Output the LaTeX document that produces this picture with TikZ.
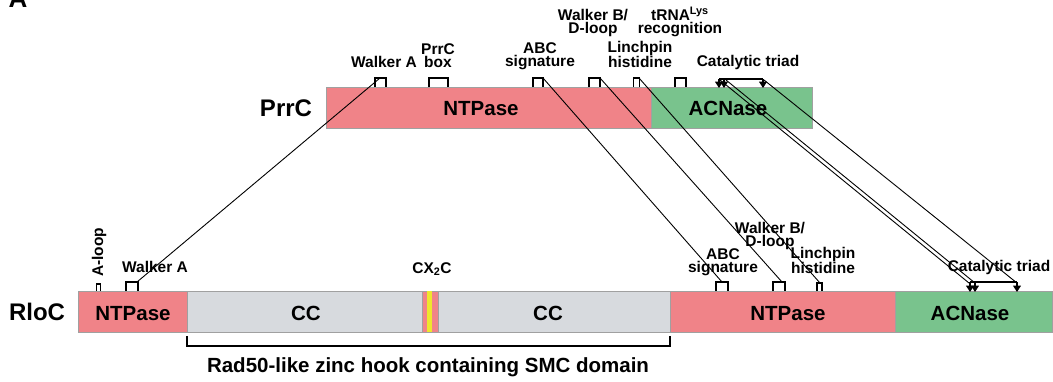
\documentclass[tikz,border=0pt]{standalone}
\usepackage{fontspec}
\setmainfont{Liberation Sans}
\usetikzlibrary{arrows.meta}
\definecolor{ntpink}{RGB}{240,131,136}
\definecolor{acgreen}{RGB}{121,195,141}
\definecolor{ccgrey}{RGB}{215,218,222}
\definecolor{znyellow}{RGB}{238,230,45}
\definecolor{edgegrey}{RGB}{160,160,160}
\newcommand{\triadtip}{Triangle[width=8pt,length=6.5pt]}
\newcommand\motif[4]{% left x, right x, bump top, bar top
  (#1,#4) -- (#1,#3) -- (#2,#3) -- (#2,#4)
}

\begin{document}
\begin{tikzpicture}[x=1pt, y=-1pt,
    protein/.style={draw=edgegrey, line width=0.7pt},
    bump/.style={draw, line width=1.1pt},
    link/.style={line width=0.9pt},
    protlab/.style={font=\fontsize{24}{28}\selectfont\bfseries, inner sep=0pt},
    domlab/.style={font=\fontsize{20.5}{24}\selectfont\bfseries, inner sep=0pt},
    lab/.style={font=\fontsize{15.5}{13.5}\selectfont\bfseries, align=center, inner sep=0pt}]
  % frame is (0,0) to (1053,381), y grows downwards
  \useasboundingbox (0,0) rectangle (1053,381);

  % panel letter
  \node[font=\fontsize{26}{30}\selectfont\bfseries, anchor=base, inner sep=0pt] (panel) at (18,7) {A};

  % PrrC
  \node[protlab, anchor=base] (prrc) at (286,116) {PrrC};
  \draw[protein, fill=ntpink] (326,87) rectangle (651,128);
  \draw[protein, fill=acgreen] (651,87) rectangle (812,128);
  \node[domlab, anchor=base] (pnt) at (481,115) {NTPase};
  \node[domlab, anchor=base] (pac) at (728,115) {ACNase};

  % PrrC motifs
  \draw[bump] \motif{375}{386}{78}{87};
  \draw[bump] \motif{429}{448}{78}{87};
  \draw[bump] \motif{533}{543}{78}{87};
  \draw[bump] \motif{589}{600}{78}{87};
  \draw[bump] \motif{633.5}{639.5}{78}{87};
  \draw[bump] \motif{675}{686}{78}{87};
  \draw[bump] (719,79) -- (763,79);
  \draw[bump, -{\triadtip}] (719,79) -- (719,88);
  \draw[bump, -{\triadtip}] (724,79) -- (724,88);
  \draw[bump, -{\triadtip}] (763,79) -- (763,88);
  \coordinate (pwa) at (380,78);
  \coordinate (pabc) at (543,78);
  \coordinate (pwb) at (600,78);
  \coordinate (plh) at (639,78);
  \coordinate (pct1) at (720,80);
  \coordinate (pct2) at (726,80);
  \coordinate (pct3) at (764,80);

  % PrrC labels
  \node[lab, anchor=south] (twa) at (384,68) {Walker A};
  \node[lab, anchor=south] (tpb) at (438,68) {PrrC\\box};
  \node[lab, anchor=south] (tabc) at (540,70) {ABC\\signature};
  \node[lab, anchor=south] (twb) at (593,37) {Walker B/\\D-loop};
  \node[lab, anchor=south] (tlh) at (640,68) {Linchpin\\histidine};
  \node[lab, anchor=south] (ttr) at (680,37) {tRNA\textsuperscript{Lys}\\recognition};
  \node[lab, anchor=south] (tct) at (748,70) {Catalytic triad};

  % RloC
  \node[protlab, anchor=base] (rloc) at (37,320) {RloC};
  \draw[protein, fill=ntpink] (78,291) rectangle (187,332);
  \draw[protein, fill=ccgrey] (187,291) rectangle (670,332);
  \draw[protein, fill=ntpink] (422,291) rectangle (438,332);
  \fill[znyellow] (427,291.4) rectangle (431.5,331.6);
  \draw[protein, fill=ntpink] (670,291) rectangle (895,332);
  \draw[protein, fill=acgreen] (895,291) rectangle (1052.6,332);
  \node[domlab, anchor=base] (rnt1) at (133,320) {NTPase};
  \node[domlab, anchor=base] (rcc1) at (306,320) {CC};
  \node[domlab, anchor=base] (rcc2) at (548,320) {CC};
  \node[domlab, anchor=base] (rnt2) at (788,320) {NTPase};
  \node[domlab, anchor=base] (rac) at (970,320) {ACNase};

  % RloC motifs
  \draw[bump] \motif{96.5}{100.5}{284}{291};
  \draw[bump] \motif{126}{138}{282}{291};
  \draw[bump] \motif{716}{728}{282}{291};
  \draw[bump] \motif{773}{785}{282}{291};
  \draw[bump] \motif{817}{822}{283}{291};
  \draw[bump] (970,282) -- (1017,282);
  \draw[bump, -{\triadtip}] (970,282) -- (970,292);
  \draw[bump, -{\triadtip}] (975,282) -- (975,292);
  \draw[bump, -{\triadtip}] (1017,282) -- (1017,292);
  \coordinate (rwa) at (137,282);
  \coordinate (rabc) at (722,282);
  \coordinate (rwb) at (782,282);
  \coordinate (rlh) at (820,283);
  \coordinate (rct1) at (969,283);
  \coordinate (rct2) at (975,283);
  \coordinate (rct3) at (1017,283);

  % RloC labels
  \node[lab, rotate=90, anchor=base west] (bal) at (103,277) {A-loop};
  \node[lab, anchor=south] (bwa) at (155,273) {Walker A};
  \node[lab, anchor=south] (bzn) at (432,276) {CX\textsubscript{2}C};
  \node[lab, anchor=south] (babc) at (723,276) {ABC\\signature};
  \node[lab, anchor=south] (bwb) at (770,250) {Walker B/\\D-loop};
  \node[lab, anchor=south] (blh) at (823,274) {Linchpin\\histidine};
  \node[lab, anchor=south] (bct) at (999,275) {Catalytic triad};

  % connectors between the two proteins
  \draw[link] (pwa) -- (rwa);
  \draw[link] (pabc) -- (rabc);
  \draw[link] (pwb) -- (rwb);
  \draw[link] (plh) -- (rlh);
  \draw[link] (pct1) -- (rct1);
  \draw[link] (pct2) -- (rct2);
  \draw[link] (pct3) -- (rct3);

  % zinc hook bracket
  \draw[line width=1.5pt] (187,336) -- (187,346) -- (670,346) -- (670,336);
  \node[domlab, anchor=base] (hook) at (428,372) {Rad50-like zinc hook containing SMC domain};

\end{tikzpicture}
\end{document}
